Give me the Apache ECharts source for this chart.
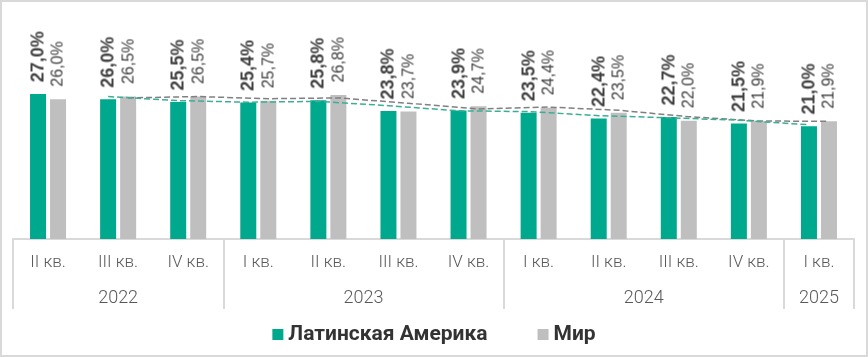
<!DOCTYPE html>
<html><head><meta charset="utf-8">
<script src="https://cdn.jsdelivr.net/npm/echarts@6/dist/echarts.min.js"></script>
<style>
html,body{margin:0;padding:0;background:#fff;}
#wrap{position:relative;width:868px;height:357px;overflow:hidden;}
#c{position:absolute;left:0;top:0;width:868px;height:357px;box-sizing:border-box;border:2px solid #d9d9d9;}
#lbl{position:absolute;left:257.5px;top:-253.5px;width:353px;height:864px;pointer-events:none;
     transform-origin:50% 50%;transform:rotate(-90deg);}
</style></head><body>
<div id="wrap"><div id="c"></div><div id="lbl"></div></div>
<script>
var quarters = ['II кв.','III кв.','IV кв.','I кв.','II кв.','III кв.','IV кв.','I кв.','II кв.','III кв.','IV кв.','I кв.'];
var years = ['2022','2023','2024','2025'];
var yearBounds = [0,3,7,11,12];
var latAm = [27.0,26.0,25.5,25.4,25.8,23.8,23.9,23.5,22.4,22.7,21.5,21.0];
var world = [26.0,26.5,26.5,25.7,26.8,23.7,24.7,24.4,23.5,22.0,21.9,21.9];
// dashed trend lines (2-period moving average)
var latAmTrend = [null,26.5,25.75,25.45,25.6,24.8,23.85,23.7,22.95,22.55,22.1,21.25];
var worldTrend = [null,26.25,26.5,26.1,26.25,25.25,24.2,24.55,23.95,22.75,21.95,21.9];

var GRID = {left: 11, right: 12, top: 22, bottom: 116};
var INNER_W = 864, INNER_H = 353, BAR_W = 16, BAR_SHIFT = 10, Y_MAX = 40;
var catW = (INNER_W - GRID.left - GRID.right) / quarters.length;
var off = BAR_SHIFT / catW;
function linePts(arr, shift){
  var out = [];
  arr.forEach(function(v,i){ if (v !== null) out.push([i + 0.5 + shift, v]); });
  return out;
}
var yearCenters = [];
for (var k = 0; k < years.length; k++) yearCenters.push((yearBounds[k] + yearBounds[k+1]) / 2);
var fmt = function(p){ return p.value.toFixed(1).replace('.', ',') + '%'; };

var chart = echarts.init(document.getElementById('c'));
chart.setOption({
  animation: false,
  grid: GRID,
  legend: {
    data: ['Латинская Америка','Мир'],
    bottom: 5, left: 'center',
    icon: 'rect', itemWidth: 11, itemHeight: 11, itemGap: 50,
    textStyle: {fontFamily: 'Roboto', fontWeight: 'bold', fontSize: 21, color: '#333'}
  },
  xAxis: [{
    type: 'category', data: quarters,
    axisLine: {onZero: false, lineStyle: {color: '#d9d9d9', width: 2}},
    axisTick: {show: false},
    axisLabel: {margin: 15, fontFamily: 'Roboto', fontWeight: 300, fontSize: 17, color: '#595959', interval: 0}
  },{
    type: 'value', min: 0, max: quarters.length, position: 'bottom',
    axisLine: {show: false, onZero: false},
    splitLine: {show: false},
    axisTick: {show: true, customValues: yearBounds, length: 70, lineStyle: {color: '#d9d9d9', width: 2}},
    axisLabel: {customValues: yearCenters, margin: 50, fontFamily: 'Roboto', fontWeight: 300, fontSize: 18, color: '#595959',
      formatter: function(v){ var i = yearCenters.indexOf(v); return i >= 0 ? years[i] : ''; }}
  }],
  yAxis: {type: 'value', min: 0, max: Y_MAX, show: false},
  series: [{
    name: 'Латинская Америка', type: 'bar', data: latAm, barWidth: BAR_W, barGap: '25%',
    itemStyle: {color: '#00a88e'}
  },{
    name: 'Мир', type: 'bar', data: world, barWidth: BAR_W,
    itemStyle: {color: '#bfbfbf'}
  },{
    name: 'trendLat', type: 'line', xAxisIndex: 1, data: linePts(latAmTrend, -off),
    symbol: 'none', lineStyle: {color: '#3aaf95', width: 1.5, type: [6,3]}, z: 5
  },{
    name: 'trendWorld', type: 'line', xAxisIndex: 1, data: linePts(worldTrend, off),
    symbol: 'none', lineStyle: {color: '#808080', width: 1.5, type: [6,3]}, z: 4
  }]
});

// Value labels: a second chart in a frame turned by -90deg, so its horizontal
// bars/labels coincide with the vertical bars of the main chart and the text reads bottom-to-top.
var lbl = echarts.init(document.getElementById('lbl'));
lbl.setOption({
  animation: false,
  backgroundColor: 'transparent',
  grid: {left: GRID.bottom, right: GRID.top, top: GRID.left, bottom: GRID.right},
  yAxis: {type: 'category', data: quarters, inverse: true, show: false},
  xAxis: {type: 'value', min: 0, max: Y_MAX, show: false},
  series: [{
    type: 'bar', data: latAm, barWidth: BAR_W, barGap: '25%', silent: true,
    itemStyle: {color: 'rgba(0,0,0,0)'},
    label: {show: true, position: 'right', distance: 12,
      formatter: fmt, fontFamily: 'Liberation Sans', fontWeight: 'bold', fontSize: 18, color: '#404040'}
  },{
    type: 'bar', data: world, barWidth: BAR_W, silent: true,
    itemStyle: {color: 'rgba(0,0,0,0)'},
    label: {show: true, position: 'right', distance: 13,
      formatter: fmt, fontFamily: 'Liberation Sans', fontSize: 16, color: '#404040'}
  }]
});
</script></body></html>
